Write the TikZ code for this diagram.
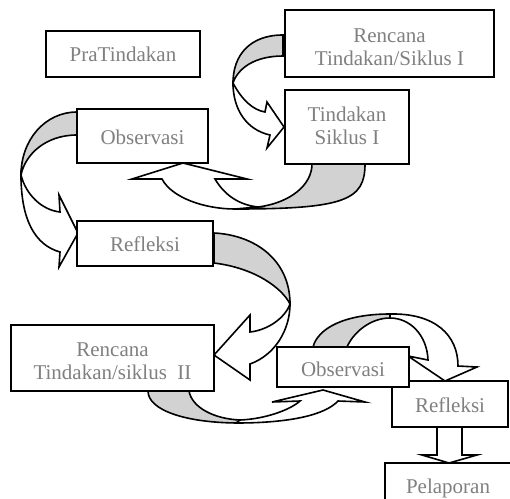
\documentclass[tikz,border=0pt]{standalone}
\usepackage{fontspec}
\setmainfont{Liberation Serif}
\definecolor{txtgray}{RGB}{128,128,128}
\definecolor{shade}{RGB}{210,210,210}
\begin{document}
\begin{tikzpicture}[x=1pt,y=-1pt,
  box/.style={draw, line width=2pt, fill=white, inner sep=0pt},
  txt/.style={text=txtgray, font=\fontsize{21}{23.5}\selectfont, align=center, inner sep=0pt},
  back/.style={draw, line width=1.6pt, fill=shade, line join=miter},
  front/.style={draw, line width=1.6pt, fill=white, line join=miter}]
\useasboundingbox (0,0) rectangle (510,498);
\clip (0,0) rectangle (510,498);

% Arrow 1: Rencana I -> Tindakan I
\path[back] (283,35) .. controls (250,35) and (233,55) .. (233,83)
  .. controls (238,68) and (255,56) .. (283,56) -- cycle;
\path[front] (233,83) .. controls (242,100) and (253,110) .. (265,112)
  -- (267,102) -- (284,127) -- (267,148) -- (270,135)
  .. controls (247,130) and (233,110) .. (233,83) -- cycle;

% Arrow 2: Tindakan I -> Observasi I
\path[back] (258,207) .. controls (290,203) and (312,185) .. (312,164)
  -- (365,164) .. controls (365,200) and (345,209) .. (235,209) -- cycle;
\path[front] (132,179) -- (183,163) -- (247,179) -- (215,179)
  .. controls (225,196) and (240,205) .. (258,207) -- (235,209)
  .. controls (205,209) and (172,198) .. (162,179) -- cycle;

% Arrow 3: Observasi I -> Refleksi I
\path[back] (77,112) .. controls (45,112) and (21,140) .. (21,175)
  .. controls (25,155) and (45,135) .. (77,135) -- cycle;
\path[front] (21,175) .. controls (26,195) and (42,210) .. (60,212)
  -- (59,195) -- (78,233) -- (59,267) -- (60,252)
  .. controls (35,245) and (21,220) .. (21,175) -- cycle;

% Arrow 4: Refleksi I -> Rencana II
\path[back] (214,233) .. controls (255,235) and (290,260) .. (290,304)
  .. controls (282,288) and (255,268) .. (214,263) -- cycle;
\path[front] (290,304) .. controls (285,318) and (268,330) .. (250,332)
  -- (250,315) -- (214,355) -- (250,380) -- (250,364)
  .. controls (275,355) and (290,330) .. (290,304) -- cycle;

% Arrow 5: Rencana II -> Observasi II
\path[back] (148,391) .. controls (148,410) and (185,423) .. (240,423)
  -- (240,420) .. controls (215,419) and (192,408) .. (189,391) -- cycle;
\path[front] (240,420) .. controls (265,419) and (290,410) .. (300,401)
  -- (272,402) -- (323,390) -- (365,402) -- (338,401)
  .. controls (325,415) and (290,423) .. (236,423) -- cycle;

% Arrow 6: Observasi II -> Refleksi II
\path[back] (313,347) .. controls (318,328) and (345,314) .. (390,314)
  -- (390,318) .. controls (370,318) and (353,333) .. (347,347) -- cycle;
\path[front] (390,318) .. controls (410,318) and (427,335) .. (428,360)
  -- (408,356) -- (445,381) -- (477,367) -- (458,366)
  .. controls (458,335) and (435,313) .. (390,314) -- cycle;

% Boxes
\node[box, minimum width=154pt, minimum height=46pt] (pra) at (123,54) {};
\node[txt] (prat) at (123,54) {PraTindakan};
\node[box, minimum width=209pt, minimum height=67pt] (ren1) at (389.5,43.5) {};
\node[txt] (ren1t) at (389.5,47) {Rencana\\Tindakan/Siklus I};
\node[box, minimum width=124pt, minimum height=74pt] (tin1) at (347,127) {};
\node[txt] (tin1t) at (347,126) {Tindakan\\Siklus I};
\node[box, minimum width=131pt, minimum height=54pt] (obs1) at (142.5,136) {};
\node[txt] (obs1t) at (142.5,137) {Observasi};
\node[box, minimum width=136pt, minimum height=45pt] (ref1) at (145,243.5) {};
\node[txt] (ref1t) at (145,244) {Refleksi};
\node[box, minimum width=203pt, minimum height=66pt] (ren2) at (112.5,358) {};
\node[txt] (ren2t) at (112.5,361) {Rencana\\Tindakan/siklus~~II};
\node[box, minimum width=116pt, minimum height=46pt] (ref2) at (450,404) {};
\node[txt] (ref2t) at (450,405) {Refleksi};
\node[box, minimum width=132pt, minimum height=40pt] (obs2) at (343,367) {};
\node[txt] (obs2t) at (343,369) {Observasi};

% Down arrow Refleksi II -> Pelaporan
\path[front] (437,427) -- (437,455) -- (422,455) -- (449,463) -- (477,455)
  -- (462,455) -- (462,427) -- cycle;
\node[box, minimum width=130pt, minimum height=52pt] (pel) at (450,489) {};
\node[txt] (pelt) at (448,488) {Pelaporan};
\end{tikzpicture}
\end{document}
